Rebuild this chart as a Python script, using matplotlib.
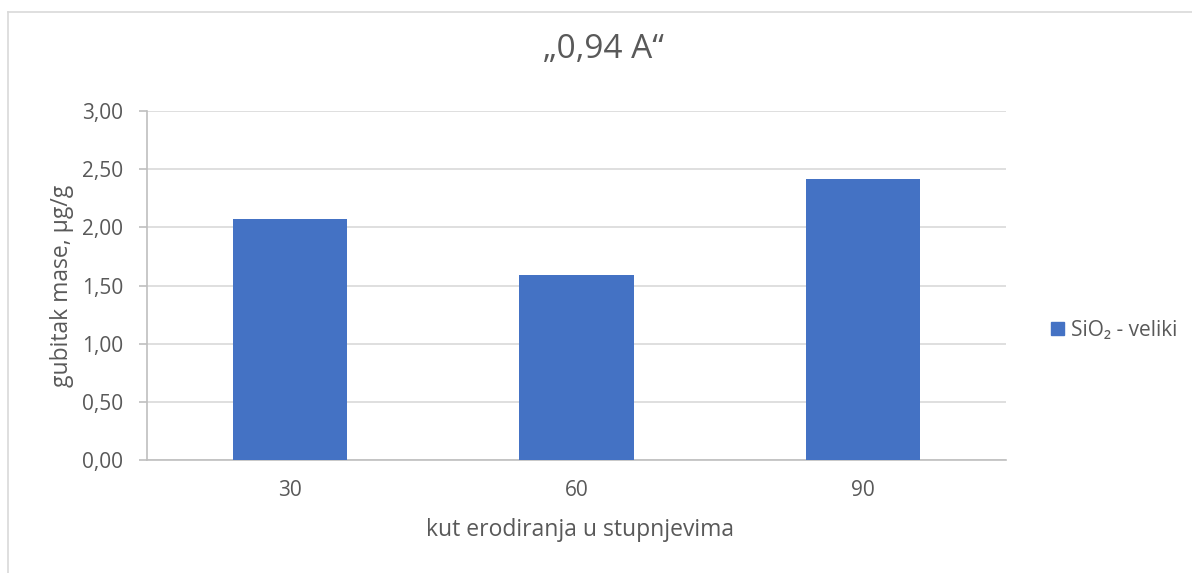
import matplotlib.pyplot as plt
from matplotlib.patches import Rectangle
from matplotlib.lines import Line2D
from matplotlib.ticker import FuncFormatter

plt.rcParams['font.family'] = ['Open Sans', 'DejaVu Sans']

# Data
angles = ['30', '60', '90']
mass_loss = [2.07, 1.59, 2.42]
series_name = 'SiO\u2082 - veliki'
title = '\u201e0,94 A\u201c'

text_col = '#595959'
bar_col = '#4472C4'

fig = plt.figure(figsize=(11.92, 5.73), dpi=100)
ax = fig.add_axes([0.1233, 0.197, 0.7207, 0.609])

x = range(len(angles))
ax.bar(x, mass_loss, width=0.40, color=bar_col, zorder=3)

ax.set_xlim(-0.5, len(angles) - 0.5)
ax.set_ylim(0, 3.0)
ax.set_yticks([0, 0.5, 1.0, 1.5, 2.0, 2.5, 3.0])
ax.yaxis.set_major_formatter(FuncFormatter(lambda v, p: f'{v:.2f}'.replace('.', ',')))
ax.set_xticks(list(x))
ax.set_xticklabels(angles)

ax.grid(axis='y', color='#d9d9d9', linewidth=1.2, zorder=0)
for s in ['top', 'right']:
    ax.spines[s].set_visible(False)
ax.spines['left'].set_color('#bfbfbf')
ax.spines['bottom'].set_color('#bfbfbf')
ax.spines['left'].set_linewidth(1.2)
ax.spines['bottom'].set_linewidth(1.2)
ax.tick_params(axis='y', length=6, color='#bfbfbf', width=1.2, labelsize=15, labelcolor=text_col, pad=11)
ax.tick_params(axis='x', length=0, labelsize=15, labelcolor=text_col, pad=14)

ax.set_ylabel('gubitak mase, \u00b5g/g', fontsize=16.5, color=text_col, va='center')
ax.yaxis.set_label_coords(-0.099, 0.5)
ax.set_xlabel('kut erodiranja u stupnjevima', fontsize=16.5, color=text_col, va='center')
ax.xaxis.set_label_coords(0.504, -0.2)

fig.text(0.506, 0.913, title, fontsize=24, color=text_col, ha='center', va='center')

# legend
leg_handle = Rectangle((0, 0), 1, 1, color=bar_col)
fig.legend([leg_handle], [series_name], loc='center left', bbox_to_anchor=(0.866, 0.424),
           frameon=False, fontsize=15, labelcolor=text_col, handlelength=0.6,
           handleheight=0.6, handletextpad=0.35)

# chart border (top and left visible)
fig.add_artist(Line2D([8 / 1192, 1.0], [1 - 12 / 573, 1 - 12 / 573], color='#d9d9d9', linewidth=1.2))
fig.add_artist(Line2D([8 / 1192, 8 / 1192], [0, 1 - 12 / 573], color='#d9d9d9', linewidth=1.2))

fig.savefig('out.png', dpi=100)
